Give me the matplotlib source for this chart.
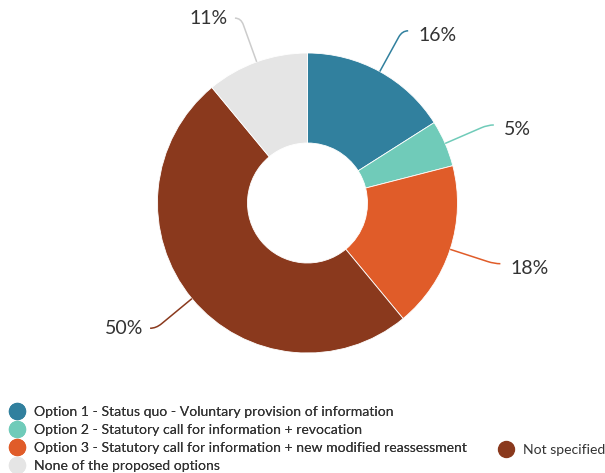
import numpy as np
import matplotlib
matplotlib.use("Agg")
import matplotlib.pyplot as plt
from matplotlib.path import Path
from matplotlib.patches import PathPatch
from matplotlib.lines import Line2D

# Survey answers (share of respondents, %)
categories = [
    "Option 1 - Status quo - Voluntary provision of information",
    "Option 2 - Statutory call for information + revocation",
    "Option 3 - Statutory call for information + new modified reassessment",
    "Not specified",
    "None of the proposed options",
]
shares = [16, 5, 18, 50, 11]
labels = ["16%", "5%", "18%", "50%", "11%"]
colors = ["#31809e", "#70cbb9", "#e05c29", "#8a391d", "#e5e5e5"]

plt.rcParams["font.family"] = ["Lato", "DejaVu Sans"]
W, H = 605, 473
fig = plt.figure(figsize=(W / 100, H / 100), dpi=100)
fig.patch.set_facecolor("white")

# square axes holding the donut (radius 150 px, centre at 307.5, 203)
cx, cy, R = 307.5, 203, 150
ax = fig.add_axes([(cx - R) / W, (H - cy - R) / H, 2 * R / W, 2 * R / H])

wedges, _ = ax.pie(shares, colors=colors, startangle=90, counterclock=False,
                   radius=1.0, wedgeprops=dict(width=0.6, edgecolor="white", linewidth=0.6))
ax.set_xlim(-1, 1)
ax.set_ylim(-1, 1)
ax.set_aspect("equal")
ax.axis("off")

# leader lines with a rounded elbow, then the percentage text
px = 1.0 / R  # one pixel in data units
for w, lab, col in zip(wedges, labels, colors):
    mid = np.deg2rad((w.theta1 + w.theta2) / 2)
    c, s = np.cos(mid), np.sin(mid)
    start = (c * 1.0, s * 1.0)
    elbow = (c * 1.31, s * 1.31)
    side = 1 if c >= 0 else -1
    before = (elbow[0] - c * 7 * px, elbow[1] - s * 7 * px)
    after = (elbow[0] + side * 6 * px, elbow[1])
    path = Path([start, before, elbow, after],
                [Path.MOVETO, Path.LINETO, Path.CURVE3, Path.CURVE3])
    line_col = "#cccccc" if col == "#e5e5e5" else col
    ax.add_patch(PathPatch(path, facecolor="none", edgecolor=line_col,
                           linewidth=1.1, clip_on=False))
    if side > 0:
        tx, ty, ha = after[0] + 10 * px, elbow[1] - 4.5 * px, "left"
    else:
        tx, ty, ha = after[0] - 7 * px, elbow[1] - 0.5 * px, "right"
    ax.text(tx, ty, lab, ha=ha, va="center", fontsize=14, color="#333333",
            clip_on=False)

# legend: four entries in the first column, "Not specified" beside Option 3
def handle(col):
    return Line2D([], [], linestyle="none", marker="o", markersize=11.5,
                  markerfacecolor=col, markeredgecolor=col)

fs = 10.1
order = [0, 1, 2, 4]
leg1 = fig.legend([handle(colors[i]) for i in order], [categories[i] for i in order],
                  loc="upper left", bbox_to_anchor=(10 / W, 1 - 406 / H),
                  frameon=False, fontsize=fs, labelcolor="#333333",
                  handlelength=1.0, handletextpad=0.72, labelspacing=0.42,
                  borderpad=0, borderaxespad=0)
leg2 = fig.legend([handle(colors[3])], [categories[3]],
                  loc="upper left", bbox_to_anchor=(499 / W, 1 - 444 / H),
                  frameon=False, fontsize=fs, labelcolor="#333333",
                  handlelength=1.0, handletextpad=0.72,
                  borderpad=0, borderaxespad=0)
fig.add_artist(leg1)

fig.savefig("out.png", dpi=100, facecolor="white")
